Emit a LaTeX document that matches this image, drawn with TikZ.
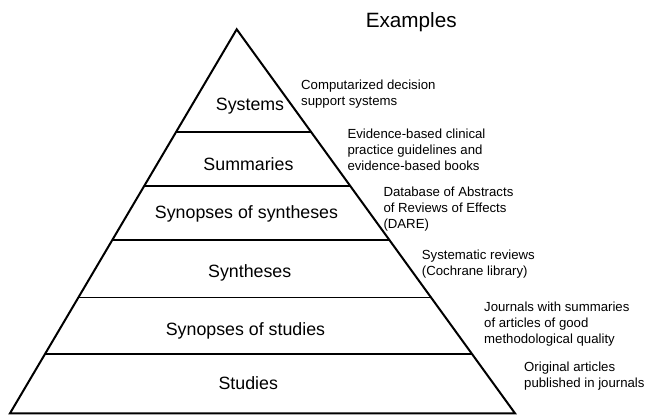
\documentclass[tikz,border=0pt]{standalone}
\usepackage{fontspec}
\setmainfont{Liberation Sans}
\usetikzlibrary{calc}

\begin{document}
\begin{tikzpicture}[x=1pt, y=-1pt,
    layer/.style={anchor=base, inner sep=0pt, font=\fontsize{17.8}{20}\selectfont},
    example/.style={anchor=west, align=left, inner sep=0pt, font=\fontsize{13.2}{16}\selectfont}]
    % Frame of the picture
    \useasboundingbox (0,0) rectangle (646,416);

    % Corners of the pyramid
    \coordinate (apex) at (236.7,29.3);
    \coordinate (bl) at (10,413.3);
    \coordinate (br) at (515,413.3);

    % Draw the outline
    \draw[line width=2pt] (bl) -- (apex) -- (br) -- cycle;

    % Lines between the layers
    \foreach \t in {0.2684, 0.4076, 0.5491, 0.6985, 0.8462} {
        \draw[line width=1.8pt] ($(apex)!\t!(bl)$) -- ($(apex)!\t!(br)$);
    }

    % Names of the layers
    \node[layer] (systems) at (250,110.7) {Systems};
    \node[layer] (summaries) at (248.5,170.7) {Summaries};
    \node[layer] (synsyn) at (246.5,218.5) {Synopses of syntheses};
    \node[layer] (syntheses) at (249.7,277.3) {Syntheses};
    \node[layer] (synstud) at (245.5,335) {Synopses of studies};
    \node[layer] (studies) at (248.3,389.3) {Studies};

    % Examples beside each layer
    \node[font=\fontsize{20.7}{24}\selectfont] (examples) at (411.2,21.7) {Examples};
    \node[example] (ex1) at (301,94) {Computarized decision\\support systems};
    \node[example] (ex2) at (347.3,149.6) {Evidence-based clinical\\practice guidelines and\\evidence-based books};
    \node[example] (ex3) at (383.3,209.5) {Database of Abstracts\\of Reviews of Effects\\(DARE)};
    \node[example] (ex4) at (421.7,263.7) {Systematic reviews\\(Cochrane library)};
    \node[example] (ex5) at (484,324) {Journals with summaries\\of articles of good\\methodological quality};
    \node[example] (ex6) at (524,376.3) {Original articles\\published in journals};
\end{tikzpicture}
\end{document}
